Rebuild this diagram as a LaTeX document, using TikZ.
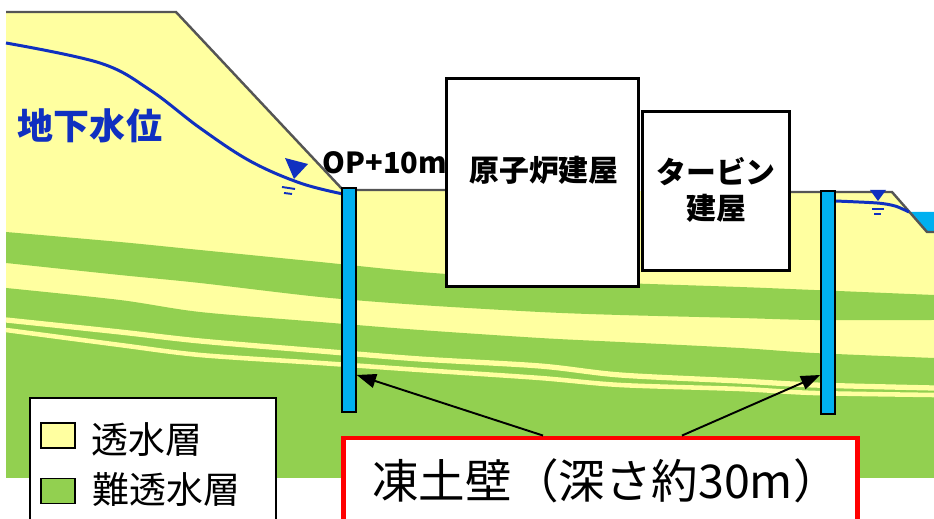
\documentclass[tikz,border=0pt]{standalone}
\usepackage{fontspec}
\newfontfamily\jp{Noto Sans CJK JP}
\usetikzlibrary{arrows.meta}
\definecolor{permeable}{RGB}{255,255,160}
\definecolor{aquitard}{RGB}{146,208,80}
\definecolor{wallblue}{RGB}{0,176,240}
\definecolor{gwblue}{RGB}{16,48,192}
\definecolor{surfacegray}{RGB}{85,85,85}
\begin{document}
\begin{tikzpicture}[x=0.02cm, y=-0.02cm,
  building/.style={draw, line width=1.7pt, fill=white, inner sep=0pt},
  bldtext/.style={font=\jp\bfseries\fontsize{17}{20.5}\selectfont, align=center, inner sep=0pt},
  cutwall/.style={draw, line width=0.8pt, fill=wallblue, inner sep=0pt, minimum width=0.28cm},
  pointer/.style={line width=1.1pt, -{Triangle[length=11pt, width=8pt]}},
  swatch/.style={draw, line width=0.6pt, inner sep=0pt, minimum width=0.68cm, minimum height=0.5cm},
  legtext/.style={font=\jp\fontsize{21}{21}\selectfont, anchor=west, inner sep=0pt}]
\useasboundingbox (0,0) rectangle (934,519);
\clip (0,0) rectangle (934,519);
  \fill[permeable] (6,12) -- (176,12) -- (343,190) -- (892,192) -- (927,232) -- (934,232) -- (934,478) -- (6,478) -- cycle;
  \fill[aquitard] plot[smooth] coordinates {(6,232) (120,242) (200,250) (320,262) (420,272) (540,280) (620,283) (740,287) (814,290) (934,295)}
    -- plot[smooth] coordinates {(934,320) (814,320) (740,318) (620,315) (540,312) (420,305) (320,297) (200,283) (120,275) (6,263)} -- cycle;
  \fill[aquitard] plot[smooth] coordinates {(6,288) (120,300) (200,312) (320,322) (420,330) (540,338) (620,342) (740,348) (814,353) (934,358)}
    -- (934,478) -- (6,478) -- cycle;
  \draw[permeable, line width=3pt] plot[smooth] coordinates {(6,320) (120,332) (200,341) (320,351) (420,359) (540,366) (620,375) (740,381) (814,385) (934,388)};
  \draw[permeable, line width=2.6pt] plot[smooth] coordinates {(6,330) (120,345) (200,355) (320,363) (420,370) (540,378) (620,385) (740,389) (814,393) (934,395)};
  \fill[wallblue] (909,212) -- (934,212) -- (934,232) -- (927,232) -- cycle;
  \draw[surfacegray, line width=1.4pt] (6,12) -- (176,12) -- (343,190) -- (446,190);
  \draw[surfacegray, line width=1.4pt] (790,192) -- (892,192) -- (927,232) -- (934,232);
  \draw[gwblue, line width=1.7pt] plot[smooth, tension=0.6] coordinates {(6,43) (100,63) (150,90) (200,128) (250,161) (300,183) (343,194)};
  \fill[gwblue] (285,158) -- (308,164) -- (294,179) -- cycle;
  \draw[gwblue, line width=1.1pt] (282,187) -- (295,189);
  \draw[gwblue, line width=1.1pt] (284,193) -- (292,194);
  \draw[gwblue, line width=1.7pt] plot[smooth] coordinates {(835,201) (877,203) (895,206) (909,212)};
  \fill[gwblue] (870,190) -- (886,190) -- (878,201) -- cycle;
  \draw[gwblue, line width=1.1pt] (872,209) -- (884,209);
  \draw[gwblue, line width=1.1pt] (874,214) -- (881,214);
  \node[building, minimum width=3.86cm, minimum height=4.18cm] (reactor) at (542.5,182.5) {};
  \node[building, minimum width=2.96cm, minimum height=3.2cm] (turbine) at (716,191) {};
  \node[bldtext] (reactorlbl) at (544,170) {原子炉建屋};
  \node[bldtext] (turbinelbl) at (716,190) {タービン\\建屋};
  \node[font=\jp\bfseries\fontsize{16.5}{16.5}\selectfont, inner sep=0pt] (oplevel) at (385,163) {OP+10m};
  \node[font=\jp\bfseries\fontsize{20.5}{20.5}\selectfont, text=gwblue, inner sep=0pt] (gwlbl) at (90,126) {地下水位};
  \node[cutwall, minimum height=4.48cm] (wallL) at (349,300) {};
  \node[cutwall, minimum height=4.46cm] (wallR) at (828,302.5) {};
  \node[draw=red, line width=2.8pt, fill=white, inner sep=0pt, minimum width=10.3cm, minimum height=2.44cm] (frozen) at (600.5,499) {};
  \node[font=\jp\fontsize{26.5}{26.5}\selectfont, inner sep=0pt] (frozenlbl) at (606,481) {凍土壁（深さ約30m）};
  \draw[pointer] ([xshift=-1.15cm]frozen.north) -- ([yshift=-1.5cm]wallL.east);
  \draw[pointer] ([xshift=1.63cm]frozen.north) -- ([yshift=-1.45cm]wallR.west);
  \node[draw, line width=0.8pt, fill=white, inner sep=0pt, minimum width=4.92cm, minimum height=2.64cm] (legend) at (153,464) {};
  \node[swatch, fill=permeable] (swyellow) at (58,435.5) {};
  \node[swatch, fill=aquitard] (swgreen) at (58,491) {};
  \node[legtext] (legyellow) at (91,440) {透水層};
  \node[legtext] (leggreen) at (92,490) {難透水層};
\end{tikzpicture}
\end{document}
